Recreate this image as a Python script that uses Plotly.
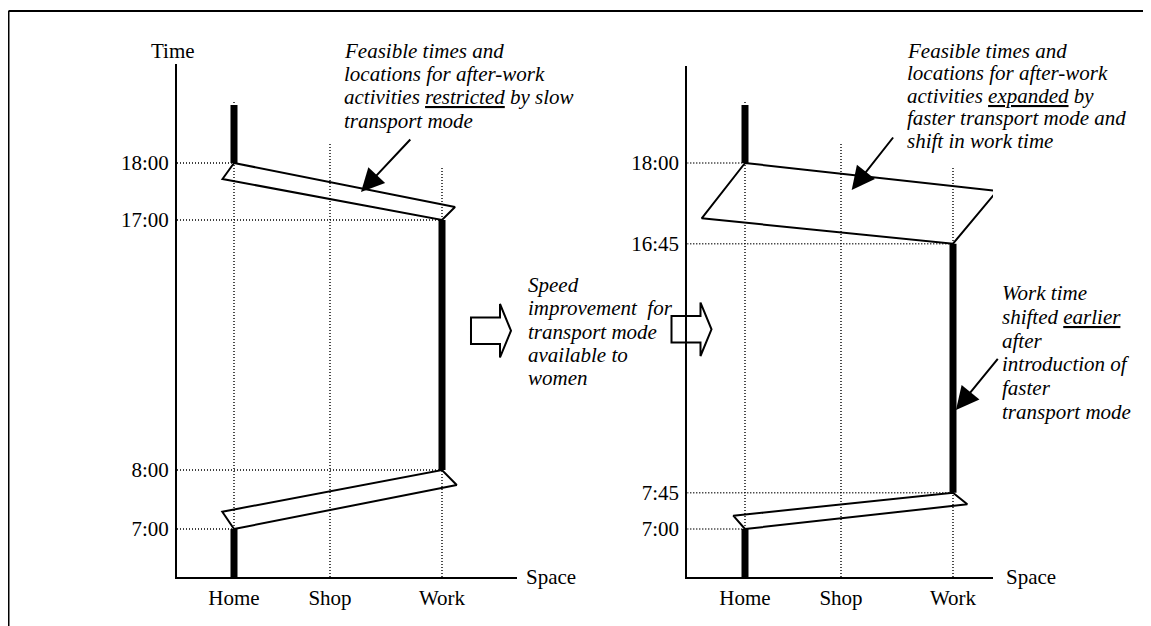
import plotly.graph_objects as go

# The page puts the figure 8px in from the top-left corner of the window.
PAGE_OFF = 8
W, H = 1151 - PAGE_OFF, 626 - PAGE_OFF
FONT = "Liberation Serif"

# ---------------- data (schematic units) ----------------
locations = ["Home", "Shop", "Work"]
space_pos = [0, 96, 208]            # schematic distance from Home
grid_top = [477, 433, 410]          # top of dotted location guides (time units)

# Left panel: slow transport mode
left_tick_labels = ["7:00", "8:00", "17:00", "18:00"]
left_tick_pos = [48, 107, 357, 414]
left_tick_loc = ["Home", "Work", "Work", "Home"]
left_stay_loc = ["Home", "Work", "Home"]
left_stay_start = [0, 107, 414]
left_stay_end = [48, 357, 472]
left_morning_prism_x = [0, -11.7, 208, 222.7]
left_morning_prism_y = [48, 65.3, 107, 92]
left_evening_prism_x = [0, 221, 208, -11.5]
left_evening_prism_y = [414, 370, 357, 398]

# Right panel: faster transport mode, work shifted earlier
right_tick_labels = ["7:00", "7:45", "16:45", "18:00"]
right_tick_pos = [48, 84.3, 333.3, 414]
right_tick_loc = ["Home", "Work", "Work", "Home"]
right_stay_loc = ["Home", "Work", "Home"]
right_stay_start = [0, 84.3, 414]
right_stay_end = [48, 333.3, 472]
right_morning_prism_x = [0, -11.7, 208, 222.3]
right_morning_prism_y = [48, 61.3, 84.3, 72.7]
right_evening_prism_x = [0, 252, 208, -43.3]
right_evening_prism_y = [414, 386, 333.3, 358.7]

left_text = ["Feasible times and", "locations for after-work",
             "activities <u>restricted</u> by slow", "transport mode"]
right_text = ["Feasible times and", "locations for after-work",
              "activities <u>expanded</u> by", "faster transport mode and",
              "shift in work time"]
speed_text = ["Speed", "improvement  for", "transport mode", "available to", "women"]
work_text = ["Work time", "shifted <u>earlier</u>", "after", "introduction of",
             "faster", "transport mode"]

# ---------------- layout helpers (window pixels -> paper fractions) ----------------
def fx(px):
    return (px - PAGE_OFF) / W

def fy(py):
    return 1 - (py - PAGE_OFF) / H

loc_x = dict(zip(locations, space_pos))

panels = [
    dict(xa="x", ya="y", xdom=(177, 516.7), ydom=(64, 577), xr=(-57, 282.7), yr=(0, 513),
         ticks=left_tick_labels, tpos=left_tick_pos, tloc=left_tick_loc,
         sloc=left_stay_loc, s0=left_stay_start, s1=left_stay_end,
         prisms=[(left_morning_prism_x, left_morning_prism_y),
                 (left_evening_prism_x, left_evening_prism_y)],
         space_px=524),
    dict(xa="x2", ya="y2", xdom=(687.3, 993), ydom=(66, 577), xr=(-57.7, 248), yr=(0, 511),
         ticks=right_tick_labels, tpos=right_tick_pos, tloc=right_tick_loc,
         sloc=right_stay_loc, s0=right_stay_start, s1=right_stay_end,
         prisms=[(right_morning_prism_x, right_morning_prism_y),
                 (right_evening_prism_x, right_evening_prism_y)],
         space_px=1004),
]

fig = go.Figure()
DOT = dict(color="black", width=1.4, dash="1px,2px")

for p in panels:
    ax0 = p["xr"][0]
    for lx, top in zip(space_pos, grid_top):
        fig.add_trace(go.Scatter(x=[lx, lx], y=[0, top], mode="lines", line=DOT,
                                 xaxis=p["xa"], yaxis=p["ya"], hoverinfo="skip"))
    for tp, tl in zip(p["tpos"], p["tloc"]):
        fig.add_trace(go.Scatter(x=[ax0, loc_x[tl]], y=[tp, tp], mode="lines", line=DOT,
                                 xaxis=p["xa"], yaxis=p["ya"], hoverinfo="skip"))
    for px_, py_ in p["prisms"]:
        fig.add_trace(go.Scatter(x=px_ + [px_[0]], y=py_ + [py_[0]], mode="lines",
                                 line=dict(color="black", width=2),
                                 xaxis=p["xa"], yaxis=p["ya"], hoverinfo="skip"))
    for sl, a, b in zip(p["sloc"], p["s0"], p["s1"]):
        fig.add_trace(go.Scatter(x=[loc_x[sl], loc_x[sl]], y=[a, b], mode="lines",
                                 line=dict(color="black", width=7),
                                 xaxis=p["xa"], yaxis=p["ya"], hoverinfo="skip"))

axis_common = dict(showline=True, linewidth=2, linecolor="black", showgrid=False,
                   zeroline=False, ticks="", tickfont=dict(family=FONT, size=21, color="black"),
                   fixedrange=True)
for i, p in enumerate(panels):
    sfx = "" if i == 0 else str(i + 1)
    fig.update_layout(**{
        "xaxis" + sfx: dict(axis_common, domain=[fx(p["xdom"][0]), fx(p["xdom"][1])],
                            range=list(p["xr"]), anchor="y" + sfx,
                            tickvals=space_pos, ticktext=locations, ticklabelstandoff=1),
        "yaxis" + sfx: dict(axis_common, domain=[fy(p["ydom"][1]), fy(p["ydom"][0])],
                            range=list(p["yr"]), anchor="x" + sfx,
                            tickvals=p["tpos"], ticktext=p["ticks"], ticklabelstandoff=2),
    })

annotations = []

def txt(s, x, y, italic=True, anchor="left"):
    annotations.append(dict(text=("<i>%s</i>" % s) if italic else s, x=fx(x), y=fy(y),
                            xref="paper", yref="paper", xanchor=anchor, yanchor="middle",
                            showarrow=False, font=dict(family=FONT, size=21, color="black")))

for k, s in enumerate(left_text):
    txt(s, 341.7, 50.7 + 23.3 * k)
for k, s in enumerate(right_text):
    txt(s, 905, 51 + 22.4 * k)
for k, s in enumerate(speed_text):
    txt(s, 526, 285 + 23.3 * k)
for k, s in enumerate(work_text):
    txt(s, 1000, 293 + 23.8 * k)
txt("Time", 173, 51, italic=False, anchor="center")
for p in panels:
    txt("Space", p["space_px"], 577, italic=False)

def arrow(xa, ya, head, tail):
    annotations.append(dict(text="", x=head[0], y=head[1], ax=tail[0], ay=tail[1],
                            xref=xa, yref=ya, axref=xa, ayref=ya, showarrow=True,
                            arrowhead=2, arrowsize=2.3, arrowwidth=2, arrowcolor="black",
                            standoff=0, startstandoff=0))

arrow("x", "y", (127, 385), (177.7, 439))
arrow("x2", "y2", (106.7, 387), (149.3, 441))
arrow("x2", "y2", (211, 167), (254, 219.7))

shapes = []

def block_arrow(x0, yc, length=40, head=11, shaft_h=13.3, head_h=26.7):
    pts = [(x0, yc - shaft_h), (x0 + length - head, yc - shaft_h),
           (x0 + length - head, yc - head_h), (x0 + length, yc),
           (x0 + length - head, yc + head_h), (x0 + length - head, yc + shaft_h),
           (x0, yc + shaft_h)]
    path = "M " + " L ".join("%.5f,%.5f" % (fx(a), fy(b)) for a, b in pts) + " Z"
    shapes.append(dict(type="path", path=path, xref="paper", yref="paper",
                       line=dict(color="black", width=2), fillcolor="rgba(0,0,0,0)"))

block_arrow(471, 330.7)
block_arrow(671.5, 329.3)

# outer frame (top and left edges)
shapes.append(dict(type="line", xref="paper", yref="paper", x0=fx(8.5), y0=fy(11), x1=1, y1=fy(11),
                   line=dict(color="black", width=2)))
shapes.append(dict(type="line", xref="paper", yref="paper", x0=fx(8.5), y0=fy(11), x1=fx(8.5), y1=0,
                   line=dict(color="black", width=2)))

fig.update_layout(width=W, height=H, margin=dict(l=0, r=0, t=0, b=0),
                  paper_bgcolor="white", plot_bgcolor="white", showlegend=False,
                  annotations=annotations, shapes=shapes, template="none")

fig.write_html("out.html")
